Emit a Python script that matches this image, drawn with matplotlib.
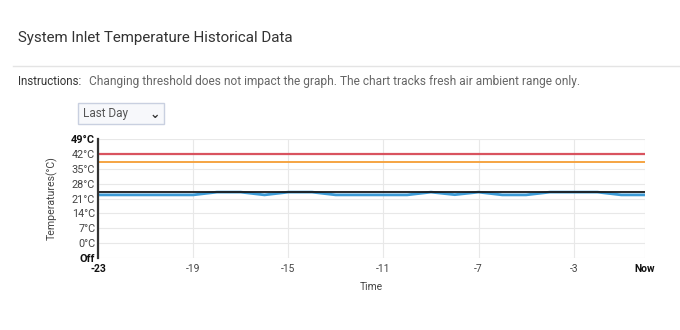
import matplotlib
matplotlib.use("Agg")
import matplotlib.pyplot as plt
from matplotlib.patches import Rectangle

plt.rcParams['font.family'] = ['Roboto', 'DejaVu Sans']

# hours before now
hours = [-23, -22, -21, -20, -19, -18, -17, -16, -15, -14, -13, -12,
         -11, -10, -9, -8, -7, -6, -5, -4, -3, -2, -1, 0]
inlet = [22.7, 22.7, 22.7, 22.7, 22.7, 24, 24, 22.7, 24, 24, 22.7, 22.7,
         22.7, 22.7, 24, 22.8, 24, 22.7, 22.7, 24, 24, 24, 22.7, 22.7]
ambient = [24] * len(hours)
warning = [38] * len(hours)
critical = [42] * len(hours)

yticks = [-7, 0, 7, 14, 21, 28, 35, 42, 49]
ylabels = ["Off", "0°C", "7°C", "14°C", "21°C", "28°C", "35°C", "42°C", "49°C"]
xticks = [-23, -19, -15, -11, -7, -3, 0]
xlabels = ["-23", "-19", "-15", "-11", "-7", "-3", "Now"]

W, H = 680, 330
fig = plt.figure(figsize=(6.8, 3.3), dpi=100)

# header
fig.text(18 / W, 1 - 38 / H, "System Inlet Temperature Historical Data",
         fontsize=10.9, color="#333333", va="center", ha="left")
fig.add_artist(plt.Line2D([13 / W, 1], [1 - 66 / H, 1 - 66 / H],
                          color="#e4e4e4", lw=1))
fig.text(18 / W, 1 - 85 / H, "Instructions:", fontsize=8.3,
         color="#333333", va="baseline", ha="left")
fig.text(89 / W, 1 - 85 / H,
         "Changing threshold does not impact the graph. The chart tracks fresh air ambient range only.",
         fontsize=8.6, color="#666666", va="baseline", ha="left")

# dropdown
fig.add_artist(Rectangle((78 / W, 1 - 124 / H), 86 / W, 21 / H,
                         transform=fig.transFigure, facecolor="#f7f8fb",
                         edgecolor="#c9d0e0", lw=1))
fig.text(83 / W, 1 - 114 / H, "Last Day", fontsize=8.5, color="#555555",
         va="center", ha="left")
fig.text(155 / W, 1 - 114 / H, "⌄", fontsize=9, color="#333333",
         va="center", ha="center", family=['DejaVu Sans'], weight="bold")

ax = fig.add_axes([98 / W, 1 - 258 / H, 547 / W, 119 / H])
ax.plot(hours, critical, color="#d9535f", lw=1.6)
ax.plot(hours, warning, color="#f5a442", lw=1.4)
ax.plot(hours, inlet, color="#3d9bd6", lw=2.0)
ax.plot(hours, ambient, color="#1a1a1a", lw=1.3)

ax.set_xlim(-23, 0)
ax.set_ylim(-7, 49)
ax.set_yticks(yticks)
ax.set_yticklabels(ylabels)
ax.set_xticks(xticks)
ax.set_xticklabels(xlabels)
ax.grid(True, color="#e8e8e8", lw=0.8)
ax.set_axisbelow(True)
for s in ["top", "right", "bottom"]:
    ax.spines[s].set_visible(False)
ax.spines["left"].set_color("#333333")
ax.spines["left"].set_linewidth(1.6)
ax.tick_params(length=0, labelsize=7.8, colors="#444444", pad=2)
ax.tick_params(axis="x", labelsize=7.4, pad=4)
for lbl in ax.get_yticklabels():
    if lbl.get_text() in ("Off", "49°C"):
        lbl.set_fontweight("bold")
        lbl.set_color("#111111")
for lbl in ax.get_xticklabels():
    if lbl.get_text() in ("-23", "Now"):
        lbl.set_fontweight("bold")
        lbl.set_color("#111111")

ax.set_ylabel("Temperatures(°C)", fontsize=7.6, color="#444444", labelpad=10)
ax.set_xlabel("Time", fontsize=7.4, color="#444444", labelpad=6)

fig.savefig("out.png", dpi=100)
